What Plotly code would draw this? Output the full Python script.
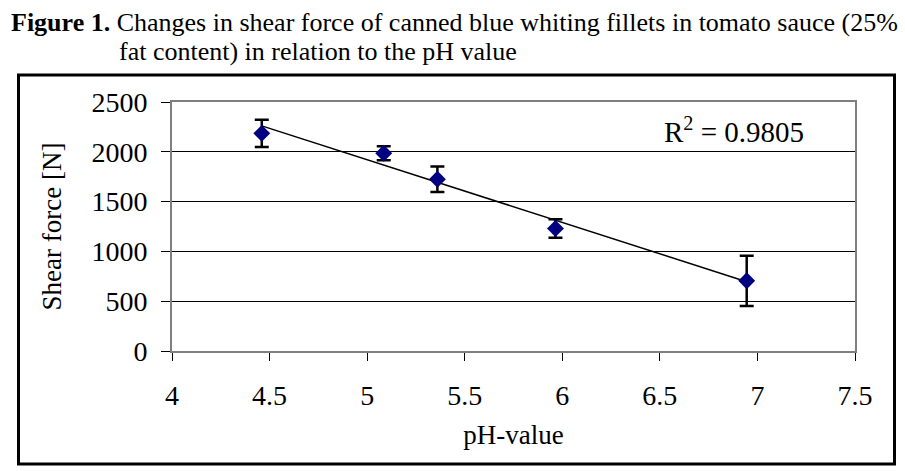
import numpy as np
import plotly.graph_objects as go

# Data
ph_values = [4.46, 5.085, 5.36, 5.965, 6.945]
shear_force = [2185, 1985, 1725, 1230, 705]
shear_error = [137, 70, 128, 93, 252]
x_ticks = [4, 4.5, 5, 5.5, 6, 6.5, 7, 7.5]
y_ticks = [0, 500, 1000, 1500, 2000, 2500]
r_squared_label = "R<sup>2</sup> = 0.9805"

FONT = "Liberation Serif"

# Linear trend line fitted to the data
slope, intercept = np.polyfit(ph_values, shear_force, 1)
trend_x = [min(ph_values), max(ph_values)]
trend_y = [slope * x + intercept for x in trend_x]

fig = go.Figure()
fig.add_trace(go.Scatter(
    x=trend_x, y=trend_y, mode="lines",
    line=dict(color="black", width=1.5), showlegend=False, hoverinfo="skip"))
fig.add_trace(go.Scatter(
    x=ph_values, y=shear_force, mode="markers",
    marker=dict(symbol="diamond", size=13, color="#000080"),
    error_y=dict(type="data", array=shear_error, visible=True,
                 color="black", thickness=2.5, width=7),
    showlegend=False))

W, H = 905, 471
L, R, T, B = 172, 50, 102, 120
pw, ph = W - L - R, H - T - B

def px(xp):
    return (xp - L) / pw

def py(yp):
    return (H - B - yp) / ph

fig.update_layout(
    width=W, height=H,
    margin=dict(l=L, r=R, t=T, b=B),
    paper_bgcolor="white", plot_bgcolor="white",
    font=dict(family=FONT, color="black", size=27),
    xaxis=dict(range=[4, 7.5], tickvals=x_ticks, ticktext=[f"{v:g}" for v in x_ticks],
               showgrid=False, zeroline=False, showline=True, linecolor="#7f7f7f",
               linewidth=2, mirror=True, ticks="outside", ticklen=8, tickwidth=1,
               tickcolor="black", ticklabelstandoff=10,
               tickfont=dict(size=28, family=FONT, color="black"),
               title=dict(text="pH-value", font=dict(size=27, family=FONT), standoff=16)),
    yaxis=dict(range=[0, 2500], tickvals=y_ticks, showgrid=True, gridcolor="black",
               gridwidth=1, zeroline=False, showline=True, linecolor="#7f7f7f",
               linewidth=2, mirror=True, ticks="outside", ticklen=9, tickwidth=1,
               tickcolor="black", ticklabelstandoff=8,
               tickfont=dict(size=28, family=FONT, color="black"),
               title=dict(text="Shear force [N]", font=dict(size=27, family=FONT), standoff=22)),
    shapes=[dict(type="rect", xref="paper", yref="paper",
                 x0=px(18.5), x1=px(894.5), y0=py(464), y1=py(75),
                 line=dict(color="black", width=3), fillcolor="rgba(0,0,0,0)", layer="above")],
    annotations=[
        dict(text="<b>Figure 1.</b> Changes in shear force of canned blue whiting fillets in tomato sauce (25%",
             xref="paper", yref="paper", x=px(9), y=py(22), xanchor="left", yanchor="middle",
             showarrow=False, font=dict(size=26, family=FONT, color="black")),
        dict(text="fat content) in relation to the pH value",
             xref="paper", yref="paper", x=px(117), y=py(52), xanchor="left", yanchor="middle",
             showarrow=False, font=dict(size=26, family=FONT, color="black")),
        dict(text=r_squared_label, xref="paper", yref="paper", x=px(662), y=py(130),
             xanchor="left", yanchor="middle", showarrow=False,
             font=dict(size=29, family=FONT, color="black")),
    ],
)

fig.write_html("out.html")
